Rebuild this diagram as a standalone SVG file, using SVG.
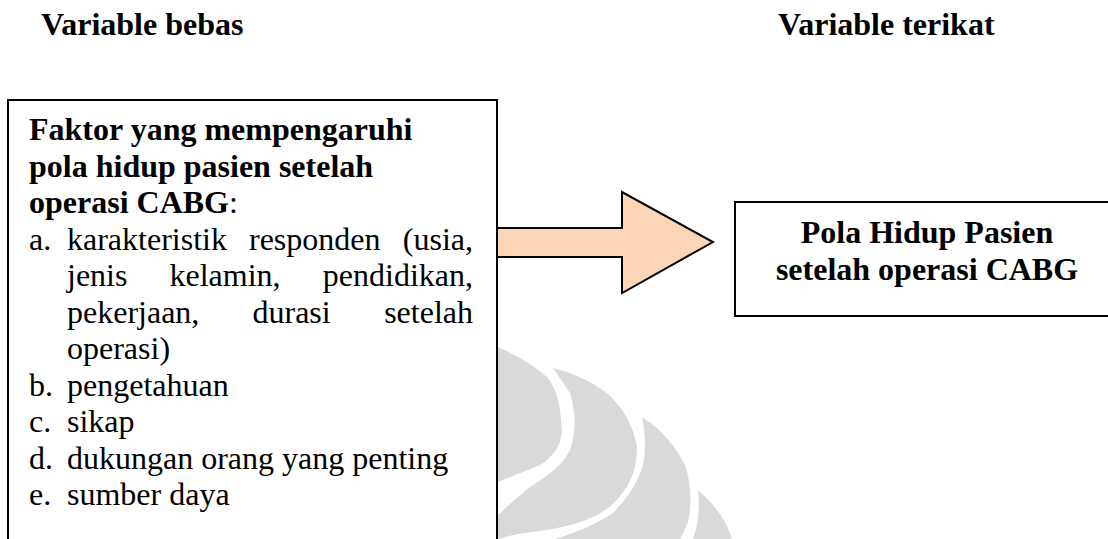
<svg xmlns="http://www.w3.org/2000/svg" width="1108" height="539" viewBox="0 0 1108 539">
<style>
text{font-family:"Liberation Serif","Times New Roman",serif;font-size:32px;fill:#000}
.b{font-weight:bold}
.box{fill:#fff;stroke:#000;stroke-width:2}
.wm{fill:#d9d9d9;stroke:none}
</style>
<rect width="1108" height="539" fill="#fff"/>
<g id="watermark">
<path class="wm" d="M493,345 C510,352 530,362 547,377 C558,390 561,410 562,433 C560,447 552,458 540,465 C525,472 505,478 493,485 Z"/>
<path class="wm" d="M553,368 C570,372 590,380 608,394 C625,410 634,428 637,447 C637,470 630,488 612,505 C595,520 570,526 547,530 C528,533 510,534 500,539 L493,539 L493,520 C505,508 518,497 530,487 C550,474 563,465 570,450 C577,430 575,410 570,393 Z"/>
<path class="wm" d="M642,417 C660,428 675,445 685,465 C692,485 692,510 687,525 L680,539 L555,539 C575,533 595,525 613,513 C628,498 640,480 644,460 C646,445 645,430 642,417 Z"/>
<path class="wm" d="M698,490 C710,500 722,515 728,528 L732,539 L693,539 C698,525 700,510 698,490 Z"/>
</g>
<g id="header-bebas"><text class="b" x="41" y="35">Variable bebas</text></g>
<g id="header-terikat"><text class="b" x="778" y="35">Variable terikat</text></g>
<g id="connectors">
<polygon points="497,228 622,228 622,192 713,242 622,293 622,257 497,257" fill="#fbd5b5" stroke="#000" stroke-width="2"/>
</g>
<g id="node-faktor">
<rect class="box" x="8" y="100" width="489" height="460"/>
<line x1="497" y1="229" x2="497" y2="256" stroke="#000" stroke-width="2"/>
<text class="b" x="29" y="140">Faktor yang mempengaruhi</text>
<text class="b" x="29" y="176.5">pola hidup pasien setelah</text>
<text x="29" y="213"><tspan class="b">operasi CABG</tspan>:</text>
<text x="29" y="249.5">a.</text>
<text x="67" y="249.5">karakteristik</text>
<text x="249" y="249.5">responden</text>
<text x="473" y="249.5" text-anchor="end">(usia,</text>
<text x="67" y="286">jenis</text>
<text x="169.5" y="286">kelamin,</text>
<text x="473" y="286" text-anchor="end">pendidikan,</text>
<text x="67" y="322.5">pekerjaan,</text>
<text x="252.5" y="322.5">durasi</text>
<text x="473" y="322.5" text-anchor="end">setelah</text>
<text x="67" y="359">operasi)</text>
<text x="29" y="395.5">b.</text><text x="67" y="395.5">pengetahuan</text>
<text x="29" y="432">c.</text><text x="67" y="432">sikap</text>
<text x="29" y="468.5">d.</text><text x="67" y="468.5">dukungan orang yang penting</text>
<text x="29" y="505">e.</text><text x="67" y="505">sumber daya</text>
</g>
<g id="node-pola">
<rect class="box" x="735" y="202" width="390" height="114"/>
<text class="b" x="927" y="243" text-anchor="middle">Pola Hidup Pasien</text>
<text class="b" x="927" y="280" text-anchor="middle">setelah operasi CABG</text>
</g>
</svg>
